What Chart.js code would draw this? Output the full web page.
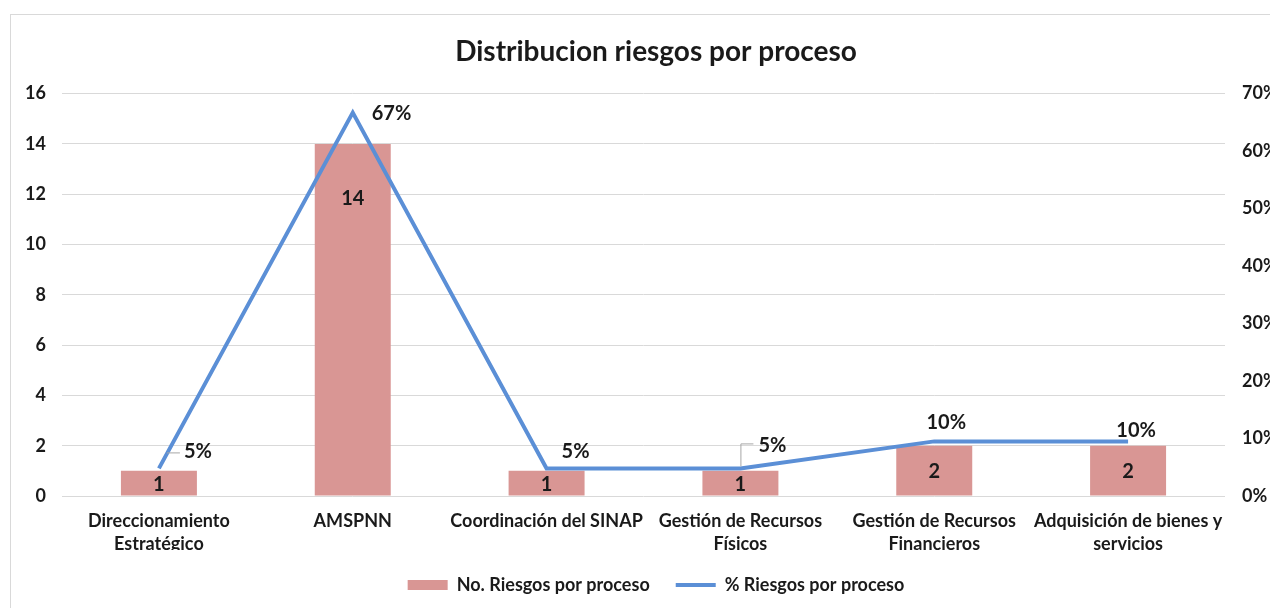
<!DOCTYPE html>
<html>
<head>
<meta charset="utf-8">
<script src="https://cdn.jsdelivr.net/npm/chart.js@4.4.0/dist/chart.umd.min.js"></script>
<style>
  html, body { margin: 0; padding: 0; background: #fff; overflow: hidden; width: 1270px; height: 608px; }
  #box { position: absolute; left: 10px; top: 14px; width: 1292px; height: 612px; border: 1px solid #d9d9d9; box-sizing: border-box; }
  #c { position: absolute; left: 0; top: 0; }
</style>
</head>
<body>
<div id="box"><canvas id="c" width="1290" height="600"></canvas></div>
<script>
// ---- data ----
const categories = [
  ["Direccionamiento", "Estratégico"],
  "AMSPNN",
  "Coordinación del SINAP",
  ["Gestión de Recursos", "Físicos"],
  ["Gestión de Recursos", "Financieros"],
  ["Adquisición de bienes y", "servicios"]
];
const riesgosCount = [1, 14, 1, 1, 2, 2];
const riesgosPct = [4.8, 66.7, 4.8, 4.8, 9.5, 9.5];
const pctLabels = ["5%", "67%", "5%", "5%", "10%", "10%"];
const leftTicks = [0, 2, 4, 6, 8, 10, 12, 14, 16];
const rightTicks = [0, 10, 20, 30, 40, 50, 60, 70];

const FONT = "Lato, 'Open Sans', sans-serif";
const TEXT = "#1a1a1a";

// label placement (styling only)
const lineLabelPlacement = [
  { dx: 25, dy: -17, align: "left", leader: "short" },
  { dx: 19, dy: 1, align: "left" },
  { dx: 15, dy: -17, align: "left" },
  { dx: 18, dy: -23, align: "left", leader: "elbow" },
  { dx: 12, dy: -19, align: "center" },
  { dx: 8, dy: -11, align: "center" }
];
const barLabelOffset = [null, 55, null, null, null, null];

const labelPlugin = {
  id: "labels",
  afterDatasetsDraw(chart) {
    const ctx = chart.ctx;
    ctx.save();
    ctx.font = "bold 20px " + FONT;
    ctx.fillStyle = TEXT;
    ctx.textBaseline = "middle";
    const barMeta = chart.getDatasetMeta(0);
    barMeta.data.forEach((el, i) => {
      const off = barLabelOffset[i];
      const y = off == null ? (el.y + el.base) / 2 + 1 : el.y + off;
      ctx.textAlign = "center";
      ctx.fillText(String(riesgosCount[i]), el.x, y);
    });
    const lineMeta = chart.getDatasetMeta(1);
    lineMeta.data.forEach((el, i) => {
      const p = lineLabelPlacement[i];
      const x = el.x + p.dx, y = el.y + p.dy;
      if (p.leader === "short") {
        ctx.strokeStyle = "#a6a6a6"; ctx.lineWidth = 1;
        ctx.beginPath(); ctx.moveTo(el.x + 8, y + 1.5); ctx.lineTo(x - 4, y + 1.5); ctx.stroke();
      } else if (p.leader === "elbow") {
        ctx.strokeStyle = "#a6a6a6"; ctx.lineWidth = 1;
        ctx.beginPath(); ctx.moveTo(el.x + 0.5, el.y - 2); ctx.lineTo(el.x + 0.5, y - 1.5); ctx.lineTo(x - 5, y - 1.5); ctx.stroke();
      }
      ctx.textAlign = p.align;
      ctx.fillText(pctLabels[i], x, y);
    });
    ctx.restore();
  }
};

new Chart(document.getElementById("c"), {
  data: {
    labels: categories,
    datasets: [
      {
        type: "bar",
        label: "No. Riesgos por proceso",
        data: riesgosCount,
        backgroundColor: "#D99694",
        borderWidth: 0,
        yAxisID: "y",
        categoryPercentage: 1,
        barPercentage: 0.392,
        pointStyle: "rect",
        order: 2
      },
      {
        type: "line",
        label: "% Riesgos por proceso",
        data: riesgosPct,
        borderColor: "#5B8FD6",
        backgroundColor: "#5B8FD6",
        borderWidth: 4,
        pointRadius: 0,
        pointHoverRadius: 0,
        pointStyle: "line",
        tension: 0,
        yAxisID: "y1",
        order: 1
      }
    ]
  },
  options: {
    responsive: false,
    animation: false,
    layout: { padding: { left: 0, right: 0, top: 0, bottom: 11 } },
    plugins: {
      title: {
        display: true,
        text: "Distribucion riesgos por proceso",
        color: TEXT,
        font: { family: FONT, size: 28, weight: "bold", lineHeight: 1.2 },
        padding: { top: 20, bottom: 25 }
      },
      legend: {
        position: "bottom",
        labels: {
          color: TEXT,
          font: { family: FONT, size: 18, weight: "bold" },
          usePointStyle: true,
          pointStyleWidth: 40,
          boxHeight: 10,
          padding: 26,
          sort: (a, b) => a.datasetIndex - b.datasetIndex
        }
      },
      tooltip: { enabled: false }
    },
    scales: {
      x: {
        afterFit(s) { s.height = 54; },
        grid: { display: false, drawTicks: false },
        border: { display: false },
        ticks: {
          color: TEXT,
          font: { family: FONT, size: 18, weight: "bold", lineHeight: 1.28 },
          maxRotation: 0,
          autoSkip: false,
          padding: 14
        }
      },
      y: {
        position: "left",
        min: 0, max: 16,
        afterBuildTicks(s) { s.ticks = leftTicks.map(v => ({ value: v })); },
        afterFit(s) { s.width = 51; },
        grid: { color: "#d9d9d9", drawTicks: false, lineWidth: 1 },
        border: { display: false },
        ticks: {
          color: TEXT,
          font: { family: FONT, size: 18, weight: "bold" },
          padding: 16
        }
      },
      y1: {
        position: "right",
        min: 0, max: 70,
        afterBuildTicks(s) { s.ticks = rightTicks.map(v => ({ value: v })); },
        afterFit(s) { s.width = 76; },
        grid: { display: false, drawTicks: false },
        border: { display: false },
        ticks: {
          color: TEXT,
          font: { family: FONT, size: 18, weight: "bold" },
          padding: 17,
          callback: v => v + "%"
        }
      }
    }
  },
  plugins: [labelPlugin]
});
</script>
</body>
</html>
